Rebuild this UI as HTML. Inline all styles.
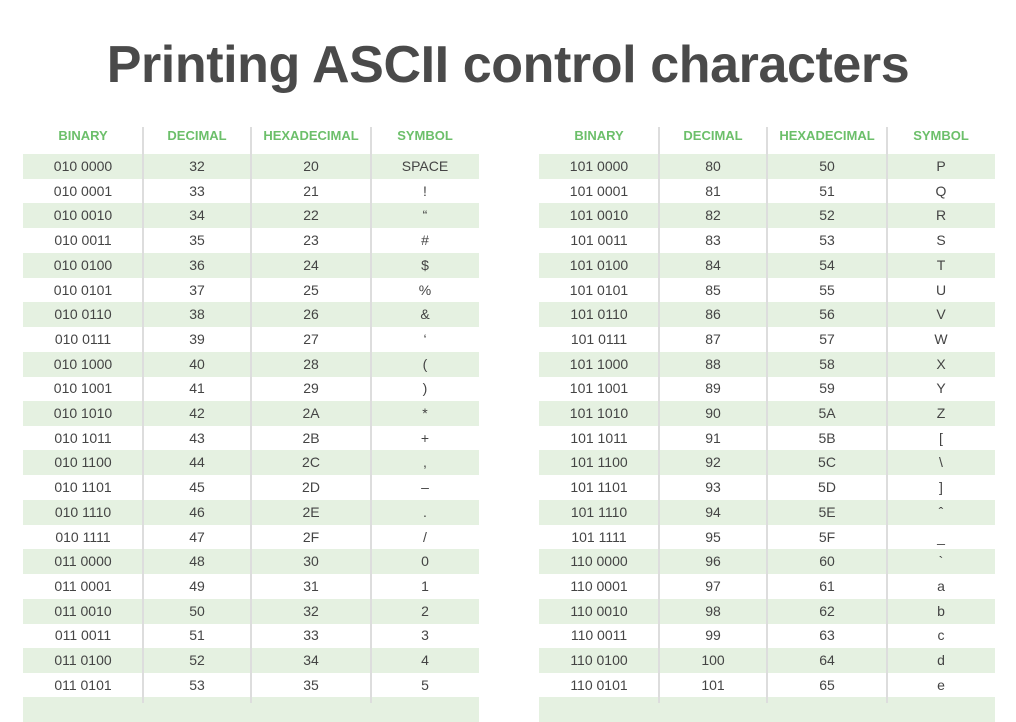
<!DOCTYPE html>
<html><head><meta charset="utf-8"><style>
body{margin:0;width:1016px;height:703px;overflow:hidden;background:#fff;font-family:"Liberation Sans",sans-serif;position:relative}
h1{position:absolute;top:30px;left:0;width:1016px;margin:0;text-align:center;font-size:52px;font-weight:bold;color:#4a4a4a;letter-spacing:-0.4px;line-height:70px}
.t{position:absolute;top:0;width:456px;height:703px}
.row{position:absolute;left:0;width:456px;height:25px}
.sh{background:#e5f1e1}
.c{position:absolute;top:0;height:25px;line-height:25px;text-align:center;font-size:14px;color:#444}
.hd{position:absolute;top:124px;height:24px;line-height:24px;text-align:center;font-size:13px;color:#6cbf6a;font-weight:bold}
.vl{position:absolute;top:127px;width:2px;height:576px;background:#ddd}
</style></head><body>
<h1>Printing ASCII control characters</h1>
<div class="t" id="L" style="left:23px"></div>
<div class="t" id="R" style="left:539px"></div>
<script>
const heads=["BINARY","DECIMAL","HEXADECIMAL","SYMBOL"];
const leftSyms=["SPACE","!","“","#","$","%","&","‘","(",")","*","+",",","–",".","/","0","1","2","3","4","5"];
const rightSyms=["P","Q","R","S","T","U","V","W","X","Y","Z","[","\\","]","ˆ","_","`","a","b","c","d","e"];
const colX=[0,120,228,348,456];
function bin(n){const s=n.toString(2).padStart(7,"0");return s.slice(0,3)+" "+s.slice(3);}
function build(id,start,syms){
 const t=document.getElementById(id);
 for(let i=0;i<23;i++){
  const r=document.createElement('div');
  r.className='row'+(i%2==0?' sh':'');
  r.style.top=(154+i*24.7)+'px';
  
  
  if(i<syms.length){
   const n=start+i;
   const vals=[bin(n),String(n),n.toString(16).toUpperCase(),syms[i]];
   for(let j=0;j<4;j++){
    const c=document.createElement('div');c.className='c';
    c.style.left=colX[j]+'px';c.style.width=(colX[j+1]-colX[j])+'px';
    c.textContent=vals[j];
    
    
    r.appendChild(c);
   }
  }
  t.appendChild(r);
 }
 for(let j=0;j<4;j++){
  const h=document.createElement('div');h.className='hd';
  h.style.left=colX[j]+'px';h.style.width=(colX[j+1]-colX[j])+'px';h.textContent=heads[j];
  
  
  t.appendChild(h);
 }
 for(let j=1;j<4;j++){
  const v=document.createElement('div');v.className='vl';v.style.left=(colX[j]-1)+'px';
  
  
  t.appendChild(v);
 }
}
build('L',32,leftSyms);
build('R',80,rightSyms);
</script>
</body></html>
